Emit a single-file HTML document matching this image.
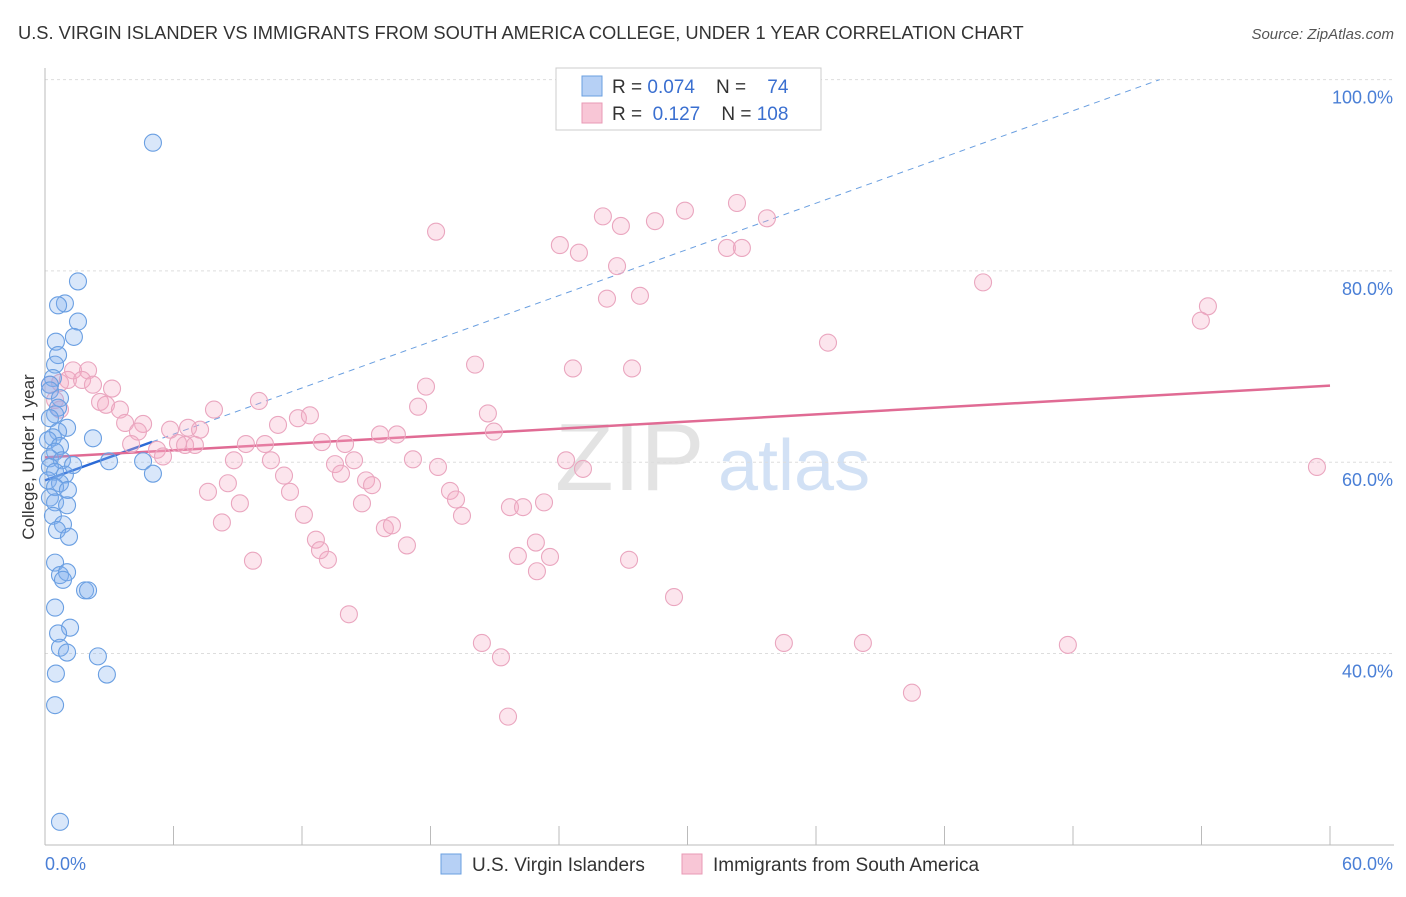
<!DOCTYPE html>
<html><head><meta charset="utf-8"><style>
body{margin:0;background:#fff;font-family:"Liberation Sans",sans-serif;}
svg text{font-family:"Liberation Sans",sans-serif;white-space:pre;}
</style></head><body>
<svg id="chart" width="1406" height="892" xmlns="http://www.w3.org/2000/svg">
<text x="18" y="39" font-size="18.3" fill="#333">U.S. VIRGIN ISLANDER VS IMMIGRANTS FROM SOUTH AMERICA COLLEGE, UNDER 1 YEAR CORRELATION CHART</text>
<text x="1394" y="39" font-size="15" fill="#555" text-anchor="end" font-style="italic">Source: ZipAtlas.com</text>
<g>
<text x="555" y="490" font-size="96" fill="#ddd" font-family="Liberation Serif" opacity="0.8">ZIP</text>
<text x="718" y="490" font-size="72" fill="#c8daf3" opacity="0.8">atlas</text>
</g>
<g id="grid"></g>
<g id="axes"></g>
<g id="trends"></g>
<g id="points"></g>
<text transform="translate(34,457) rotate(-90)" font-size="17" fill="#333" text-anchor="middle">College, Under 1 year</text>
<g>
<rect x="556" y="68" width="265" height="62" fill="#fff" stroke="#ccc"/>
<rect x="582" y="76" width="20" height="20" fill="#b6d0f5" stroke="#6a9fe0"/>
<text x="612" y="93" font-size="19" fill="#333">R = <tspan fill="#3a6fd0">0.074</tspan>    N =    <tspan fill="#3a6fd0">74</tspan></text>
<rect x="582" y="103" width="20" height="20" fill="#f8c6d6" stroke="#e89ab5"/>
<text x="612" y="120" font-size="19" fill="#333">R =  <tspan fill="#3a6fd0">0.127</tspan>    N = <tspan fill="#3a6fd0">108</tspan></text>
</g>
<g>
<rect x="441" y="854" width="20" height="20" fill="#b6d0f5" stroke="#6a9fe0"/>
<text x="472" y="871" font-size="19" fill="#333">U.S. Virgin Islanders</text>
<rect x="682" y="854" width="20" height="20" fill="#f8c6d6" stroke="#e89ab5"/>
<text x="713" y="871" font-size="19" fill="#333">Immigrants from South America</text>
</g>
</svg>
<script>
const xTickLabels=["0.0%","60.0%"];
const yTicks=[40,60,80,100];
const yTickLabels=["40.0%","60.0%","80.0%","100.0%"];
const blueX=[5.04,1.54,0.93,0.61,1.54,1.35,0.51,0.61,0.47,0.37,0.23,0.23,0.70,0.61,0.47,0.23,1.03,0.61,0.37,0.14,2.24,0.70,0.47,0.23,0.79,1.31,2.99,4.58,0.23,0.47,0.93,5.04,0.14,0.70,0.47,1.07,0.23,0.47,1.03,0.37,0.84,0.56,1.12,0.47,0.70,1.03,0.84,1.87,2.01,0.47,1.17,0.61,0.70,1.03,2.47,0.51,2.89,0.47,0.70];
const blueY=[93.4,78.9,76.6,76.4,74.7,73.1,72.6,71.2,70.2,68.8,68.1,67.5,66.7,65.7,65.0,64.6,63.6,63.2,62.6,62.3,62.5,61.7,61.1,60.4,60.2,59.7,60.1,60.1,59.5,59.0,58.7,58.8,58.1,57.8,57.4,57.1,56.3,55.8,55.5,54.4,53.5,52.9,52.2,49.5,48.2,48.5,47.7,46.6,46.6,44.8,42.7,42.1,40.6,40.1,39.7,37.9,37.8,34.6,22.4];
const pinkX=[35.34,18.26,26.05,26.89,28.48,29.88,32.31,33.71,24.04,24.93,31.84,32.54,26.71,27.78,26.24,43.8,54.3,53.97,36.56,20.08,24.65,27.41,17.79,17.42,20.68,20.96,15.64,16.43,17.18,18.35,18.91,19.19,19.47,21.71,22.32,23.30,24.33,25.12,22.08,22.92,23.58,22.97,27.27,29.37,14.19,20.40,21.29,21.62,34.50,38.19,47.76,40.48,59.39,0.70,1.07,1.31,2.01,1.73,2.24,3.13,2.57,2.85,3.50,3.74,4.58,4.34,4.02,5.23,5.51,5.84,6.21,6.68,6.54,7.24,7.00,7.89,7.61,8.26,8.54,8.82,9.10,9.38,9.71,9.99,10.27,10.55,10.88,11.44,11.16,11.81,12.09,12.37,12.65,12.93,13.21,13.54,13.82,14.43,14.80,14.99,15.27,15.87,16.20,16.90,14.01,12.84,0.23,0.47,0.70];
const pinkY=[100.0,84.1,85.7,84.7,85.2,86.3,87.1,85.5,82.7,81.9,82.4,82.4,80.5,77.4,77.1,78.8,76.3,74.8,72.5,70.2,69.8,69.8,67.9,65.8,65.1,63.2,62.9,62.9,60.3,59.5,57.0,56.1,54.4,55.3,55.3,55.8,60.2,59.3,50.2,51.6,50.1,48.6,49.8,45.9,44.1,41.1,39.6,33.4,41.1,41.1,40.9,35.9,59.5,68.3,68.6,69.6,69.6,68.6,68.1,67.7,66.3,66.0,65.5,64.1,64.0,63.2,61.9,61.3,60.6,63.4,62.0,63.6,61.8,63.4,61.8,65.5,56.9,53.7,57.8,60.2,55.7,61.9,49.7,66.4,61.9,60.2,63.9,56.9,58.6,64.6,54.5,64.9,51.9,62.1,49.8,59.8,58.8,60.2,55.7,58.1,57.6,53.1,53.4,51.3,61.9,50.8,68.1,66.5,65.5];
const blueTrend=[58.1,0.805];
const pinkTrend=[60.5,0.125];
const NS="http://www.w3.org/2000/svg";
const X0=45,X1=1330,Y100=79.6,YPER=191.3/20;
const sx=v=>X0+(v/60)*(X1-X0);
const sy=v=>Y100+(100-v)*YPER;
function mk(tag,attrs,parent){const e=document.createElementNS(NS,tag);for(const k in attrs)e.setAttribute(k,attrs[k]);document.getElementById(parent).appendChild(e);return e;}
yTicks.forEach((t,i)=>{
  const g=mk('line',{x1:X0,x2:1394,y1:sy(t),y2:sy(t),stroke:'#ddd','stroke-dasharray':'3,3'},'grid');
  
  
  const l=mk('text',{x:1393,y:sy(t)+24,'font-size':18,fill:'#4a7fd6','text-anchor':'end'},'grid');
  l.textContent=yTickLabels[i];
  
  
});
const ax=mk('line',{x1:X0,x2:X0,y1:68,y2:845,stroke:'#bbb'},'axes');


const bx=mk('line',{x1:X0,x2:1394,y1:845,y2:845,stroke:'#bbb'},'axes');


for(let i=0;i<=10;i++){const t=mk('line',{x1:sx(i*6),x2:sx(i*6),y1:826,y2:845,stroke:'#bbb'},'axes');
  
  }
[[0,'start',45],[60,'end',1393]].forEach((d,i)=>{const t=mk('text',{x:d[2],y:870,'font-size':18,fill:'#4a7fd6','text-anchor':d[1]},'axes');t.textContent=xTickLabels[i];
  
  });
const bxEnd=(100-blueTrend[0])/blueTrend[1];
const bd=mk('line',{x1:sx(5),y1:sy(blueTrend[0]+5*blueTrend[1]),x2:sx(bxEnd),y2:sy(100),stroke:'#6a9fe0','stroke-dasharray':'6,5','stroke-width':1},'trends');


const bs=mk('line',{x1:sx(0),y1:sy(blueTrend[0]),x2:sx(5),y2:sy(blueTrend[0]+5*blueTrend[1]),stroke:'#2b6ad6','stroke-width':2.5},'trends');


const ps=mk('line',{x1:sx(0),y1:sy(pinkTrend[0]),x2:sx(60),y2:sy(pinkTrend[0]+60*pinkTrend[1]),stroke:'#e06b94','stroke-width':2.5},'trends');


pinkX.forEach((x,i)=>{const c=mk('circle',{cx:sx(x),cy:sy(pinkY[i]),r:8.5,fill:'rgba(244,170,196,0.3)',stroke:'#eaa6bf','stroke-width':1.1},'points');
  
  });
blueX.forEach((x,i)=>{const c=mk('circle',{cx:sx(x),cy:sy(blueY[i]),r:8.5,fill:'rgba(130,175,240,0.3)',stroke:'#6a9fe2','stroke-width':1.1},'points');
  
  });
</script>
</body></html>
